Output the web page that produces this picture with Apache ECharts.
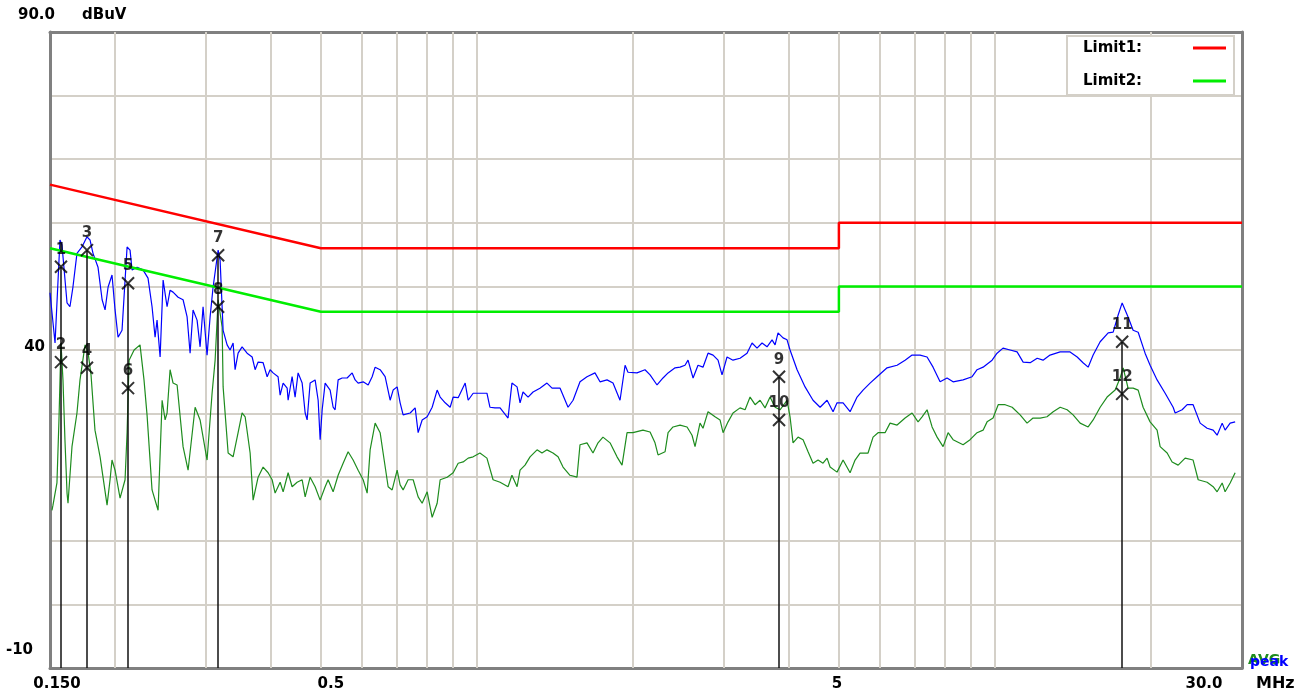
<!DOCTYPE html>
<html><head><meta charset="utf-8">
<script src="https://cdn.jsdelivr.net/npm/echarts@6/dist/echarts.min.js"></script>
<style>html,body{margin:0;padding:0;background:#fff}#c{width:1306px;height:697px}</style>
</head><body><div id="c"></div>
<script>
// ---- data (frequency in MHz, level in dBuV) ----
const peakFreq = [0.150,0.1534,0.1568,0.1582,0.1618,0.1639,0.1661,0.1691,0.1729,0.1768,0.1792,0.1816,0.1857,0.1891,0.1916,0.1942,0.1976,0.2003,0.2030,0.2066,0.2113,0.2141,0.2160,0.2209,0.2268,0.2319,0.2361,0.2393,0.2414,0.2447,0.2480,0.2524,0.2558,0.2592,0.2651,0.2710,0.2759,0.2796,0.2833,0.2884,0.2923,0.2962,0.3015,0.3056,0.3097,0.3167,0.3195,0.3238,0.3296,0.3340,0.3385,0.3415,0.3461,0.3523,0.3602,0.3684,0.3733,0.3783,0.3868,0.3938,0.3990,0.4043,0.4134,0.4172,0.4228,0.4304,0.4323,0.4400,0.4459,0.4519,0.4601,0.4663,0.4704,0.4767,0.4874,0.4940,0.4984,0.5029,0.5096,0.5210,0.5280,0.5327,0.5399,0.5496,0.5619,0.5746,0.5823,0.5901,0.6034,0.6170,0.6280,0.6364,0.6507,0.6653,0.6803,0.6894,0.7018,0.7112,0.7207,0.7436,0.7603,0.7705,0.7843,0.8020,0.8200,0.8384,0.8497,0.8688,0.8883,0.9002,0.9205,0.9496,0.9623,0.9839,1.005,1.046,1.060,1.084,1.109,1.149,1.169,1.196,1.212,1.228,1.256,1.284,1.324,1.366,1.397,1.448,1.500,1.534,1.582,1.632,1.691,1.729,1.784,1.832,1.890,1.933,1.958,2.038,2.112,2.160,2.228,2.288,2.340,2.414,2.468,2.523,2.557,2.615,2.673,2.733,2.795,2.858,2.922,2.974,3.041,3.123,3.222,3.324,3.399,3.475,3.553,3.633,3.715,3.765,3.815,3.901,3.971,4.024,4.152,4.302,4.457,4.599,4.744,4.872,4.959,5.094,5.255,5.421,5.567,5.743,5.925,6.194,6.476,6.710,6.922,7.173,7.399,7.599,7.840,8.087,8.306,8.684,9.038,9.241,9.491,9.879,10.10,10.37,10.70,11.04,11.34,11.70,12.07,12.39,12.78,13.37,13.97,14.42,14.80,15.14,15.48,15.97,16.55,16.92,17.30,17.61,18.08,18.49,18.91,19.50,19.94,20.57,21.32,22.09,22.29,22.99,23.51,24.14,24.91,25.69,26.39,26.86,27.47,27.83,28.46,29.10];
const peakLevel = [49.0,41.1,57.3,56.5,47.4,46.8,49.9,55.2,56.2,57.8,57.3,55.2,53.0,47.9,46.3,49.9,51.8,46.3,42.0,43.1,56.2,55.7,52.6,53.0,52.6,51.3,46.8,42.0,44.7,38.9,51.0,46.8,49.4,49.1,48.3,47.9,45.2,39.5,46.3,44.7,40.5,46.8,39.2,45.2,49.9,55.7,54.1,43.1,40.8,40.0,41.1,36.9,39.5,40.5,39.5,38.9,36.9,38.1,38.0,35.8,36.9,36.4,35.8,32.9,34.8,34.0,32.1,35.8,32.6,36.4,34.8,30.1,29.0,34.8,35.3,32.1,25.9,30.6,34.8,33.7,31.0,30.6,35.3,35.6,35.6,36.4,35.3,34.8,35.0,34.5,35.8,37.3,36.9,35.8,32.1,33.7,34.2,31.7,29.8,30.1,30.9,27.0,29.0,29.5,31.0,33.7,32.6,31.7,31.0,32.6,32.5,34.8,32.1,33.2,33.2,33.2,31.0,30.9,30.9,29.3,34.8,34.2,31.7,33.4,32.6,33.4,34.0,34.8,34.0,34.0,31.0,32.1,35.0,35.8,36.4,35.0,35.3,34.8,32.1,37.6,36.5,36.4,36.9,36.1,34.5,35.6,36.4,37.2,37.3,37.6,38.4,35.6,37.6,37.3,39.5,39.2,38.4,36.1,38.9,38.4,38.7,39.5,41.1,40.3,41.1,40.5,41.6,40.8,42.7,41.9,41.6,40.0,36.9,34.2,32.1,31.0,32.1,30.3,31.7,31.7,30.3,32.6,33.7,34.8,35.8,37.2,37.6,38.4,39.2,39.2,38.9,37.3,35.0,35.6,35.0,35.3,35.8,36.9,37.3,38.4,39.5,40.3,40.0,39.7,38.1,38.0,38.7,38.4,39.2,39.7,39.7,38.9,38.0,37.3,39.2,41.3,42.7,42.8,45.5,47.4,45.2,43.1,42.8,39.5,37.6,35.3,33.2,31.0,30.1,30.6,31.4,31.4,28.5,27.7,27.4,26.6,28.5,27.4,28.5,28.7];
const avgFreq = [0.1513,0.1520,0.1547,0.1561,0.1575,0.1589,0.1603,0.1618,0.1625,0.1654,0.1691,0.1714,0.1753,0.1776,0.1800,0.1832,0.1874,0.1933,0.1959,0.1976,0.2003,0.2048,0.2094,0.2113,0.2132,0.2180,0.2238,0.2278,0.2309,0.2361,0.2425,0.2469,0.2502,0.2524,0.2558,0.2592,0.2639,0.2710,0.2771,0.2859,0.2923,0.3015,0.3083,0.3125,0.3167,0.3224,0.3238,0.3311,0.3385,0.3461,0.3523,0.3571,0.3651,0.3700,0.3783,0.3868,0.3955,0.4026,0.4080,0.4172,0.4228,0.4323,0.4400,0.4499,0.4601,0.4663,0.4767,0.4874,0.4984,0.5096,0.5164,0.5280,0.5399,0.5520,0.5644,0.5771,0.5901,0.6034,0.6142,0.6224,0.6364,0.6507,0.6594,0.6743,0.6864,0.7018,0.7112,0.7207,0.7369,0.7536,0.7705,0.7843,0.8020,0.8200,0.8384,0.8497,0.8766,0.9002,0.9205,0.9411,0.9623,0.9839,1.014,1.046,1.075,1.109,1.149,1.169,1.196,1.212,1.239,1.267,1.307,1.336,1.366,1.403,1.435,1.467,1.513,1.561,1.582,1.632,1.676,1.714,1.752,1.808,1.865,1.907,1.950,2.002,2.093,2.160,2.208,2.238,2.309,2.340,2.392,2.468,2.546,2.603,2.638,2.697,2.733,2.795,2.883,2.948,2.988,3.055,3.123,3.222,3.295,3.369,3.445,3.522,3.601,3.682,3.765,3.849,3.971,4.024,4.078,4.170,4.264,4.360,4.457,4.558,4.660,4.744,4.808,4.959,5.094,5.255,5.373,5.493,5.692,5.820,5.951,6.139,6.277,6.476,6.710,6.922,7.109,7.237,7.399,7.566,7.736,7.945,8.124,8.306,8.684,8.958,9.241,9.491,9.661,9.922,10.15,10.47,10.80,11.19,11.54,11.85,12.23,12.61,12.96,13.37,13.79,14.16,14.61,15.14,15.48,15.97,16.47,17.07,17.45,17.69,18.08,18.49,18.91,19.33,19.94,20.57,20.85,21.51,21.99,22.59,23.30,24.14,24.69,25.69,26.39,26.86,27.47,27.83,28.46,29.10];
const avgLevel = [14.8,15.6,19.1,29.0,41.1,35.3,25.9,17.5,15.9,24.8,30.1,35.3,40.8,39.7,36.1,27.4,23.2,15.6,19.6,22.7,21.1,16.7,19.6,27.0,38.4,40.0,40.8,35.3,29.8,18.0,14.8,32.1,29.0,30.1,36.9,34.8,34.5,24.8,21.1,31.0,29.0,22.7,33.2,38.4,47.9,43.6,34.2,23.8,23.2,27.0,30.1,29.5,23.8,16.4,20.0,21.6,20.7,19.6,17.5,19.2,17.7,20.7,18.5,19.2,19.6,16.9,20.0,18.5,16.4,18.5,19.6,17.7,20.3,22.2,24.0,22.7,21.1,19.6,17.5,24.3,28.5,27.0,23.8,18.5,18.0,21.1,18.8,18.0,19.6,19.6,16.9,15.9,17.7,13.7,15.9,19.6,20.0,20.7,22.2,22.4,23.0,23.2,23.8,23.0,19.6,19.2,18.5,20.3,18.5,21.1,21.9,23.2,24.3,23.8,24.3,23.8,23.2,21.6,20.3,20.0,25.1,25.4,23.8,25.4,26.3,25.4,23.2,21.9,27.0,27.0,27.4,27.1,25.4,23.5,24.0,27.0,27.9,28.2,27.9,26.6,24.8,28.5,27.7,30.3,29.5,29.0,27.0,28.7,30.1,30.9,30.6,32.6,31.4,32.1,30.9,32.6,31.0,30.6,32.1,29.5,25.4,26.3,25.9,24.0,22.2,22.7,22.2,23.0,21.6,20.8,22.7,20.7,22.7,23.8,23.8,26.3,27.0,27.0,28.5,28.2,29.3,30.1,28.7,29.5,30.6,27.9,26.3,24.8,27.0,25.9,25.1,25.9,27.0,27.4,28.7,29.3,31.4,31.4,31.0,29.8,28.5,29.3,29.3,29.5,30.3,31.0,30.6,29.8,28.5,27.9,29.0,31.0,32.6,33.7,35.6,37.2,34.0,34.0,33.7,31.0,28.7,27.4,24.8,23.8,22.4,21.9,23.0,22.7,19.6,19.2,18.5,17.7,19.1,17.7,19.1,20.7];
const limit1Freq = [0.15, 0.5, 5, 5, 30];
const limit1Level = [66, 56, 56, 60, 60];
const limit2Freq = [0.15, 0.5, 5, 5, 30];
const limit2Level = [56, 46, 46, 50, 50];
const markerNames = ['1','2','3','4','5','6','7','8','9','10','11','12'];
const markerFreq = [0.1575,0.1575,0.1768,0.1768,0.2122,0.2122,0.3167,0.3167,3.832,3.832,17.61,17.61];
const markerLevel = [53.1,38.1,55.7,37.2,50.5,34.0,54.9,46.8,35.8,29.0,41.3,33.1];
const gridFreqs = [0.2,0.3,0.4,0.5,0.6,0.7,0.8,0.9,1,2,3,4,5,6,7,8,9,10,20];
const xTickValues = [0.15, 0.5, 5, 30];
const xTickLabels = ['0.150', '0.5', '5', '30.0'];
const yTickValues = [-10, 40, 90];
const yTickLabels = ['-10', '40', '90.0'];

// ---- chart ----
const zip = (a, b) => a.map((v, i) => [v, b[i]]);
const FONT = '"DejaVu Sans", "Liberation Sans", sans-serif';
const chart = echarts.init(document.getElementById('c'), null, {renderer: 'canvas'});

// marker stems: from the bottom of the scale up to the higher marker at each frequency
const stemTop = {};
markerFreq.forEach((f, i) => { stemTop[f] = Math.max(stemTop[f] ?? -Infinity, markerLevel[i]); });
const stems = Object.keys(stemTop).map(k => [{coord: [Number(k), -10]}, {coord: [Number(k), stemTop[k]]}]);

const frame = {show: true, onZero: false, lineStyle: {color: '#808080', width: 3}};

const option = {
  animation: false,
  backgroundColor: '#ffffff',
  grid: {left: 50, right: 64, top: 32, bottom: 29, containLabel: false},
  legend: {
    data: [{name: 'Limit1', icon: 'rect'}, {name: 'Limit2', icon: 'rect'}],
    orient: 'vertical', align: 'right', right: 72, top: 36,
    padding: [4, 8, 6, 16], itemGap: 17, itemWidth: 33, itemHeight: 3,
    borderColor: '#d4d0c8', borderWidth: 2, backgroundColor: '#ffffff',
    selectedMode: false,
    formatter: n => '{t|' + n + ':}',
    textStyle: {fontFamily: FONT, fontWeight: 'bold', fontSize: 15, color: '#000', lineHeight: 16,
      rich: {t: {fontFamily: FONT, fontWeight: 'bold', fontSize: 15, color: '#000', width: 105, align: 'left'}}}
  },
  xAxis: [{
    type: 'log', logBase: 10, min: 0.15, max: 30, gridIndex: 0,
    axisLine: frame,
    axisTick: {show: false}, axisLabel: {show: false}, splitLine: {show: false}, minorTick: {show: false}
  }, {
    type: 'log', logBase: 10, min: 0.15, max: 30, gridIndex: 0, position: 'top',
    axisLine: frame,
    axisTick: {show: false}, axisLabel: {show: false}, splitLine: {show: false}
  }],
  yAxis: [{
    type: 'value', min: -10, max: 90, interval: 10, gridIndex: 0,
    name: 'dBuV', nameLocation: 'end', nameGap: 17,
    nameTextStyle: {fontFamily: FONT, fontWeight: 'bold', fontSize: 15, color: '#000', align: 'left', verticalAlign: 'middle', padding: [0, 0, 0, 32]},
    axisLine: frame,
    axisTick: {show: false},
    splitLine: {show: true, lineStyle: {color: '#d4d0c8', width: 2}},
    axisLabel: {
      margin: -6, fontFamily: FONT, fontWeight: 'bold', fontSize: 15, color: '#000',
      formatter: v => { const i = yTickValues.indexOf(v); return i < 0 ? '' : '{y' + i + '|' + yTickLabels[i] + '}'; },
      rich: {
        y0: {fontFamily: FONT, fontWeight: 'bold', fontSize: 15, color: '#000', padding: [0, 23, 36, 0]},
        y1: {fontFamily: FONT, fontWeight: 'bold', fontSize: 15, color: '#000', padding: [0, 11, 6, 0]},
        y2: {fontFamily: FONT, fontWeight: 'bold', fontSize: 15, color: '#000', padding: [0, 1, 34, 0]}
      }
    }
  }, {
    type: 'value', min: -10, max: 90, gridIndex: 0, position: 'right',
    axisLine: frame,
    axisTick: {show: false}, axisLabel: {show: false}, splitLine: {show: false}
  }],
  series: [
    {
      name: 'freqGrid', type: 'line', data: [[0.15, -10]], symbol: 'none', silent: true, z: 1,
      lineStyle: {width: 0},
      markLine: {
        silent: true, z: 1, symbol: ['none', 'none'], label: {show: false}, animation: false,
        lineStyle: {color: '#d4d0c8', width: 2, type: 'solid'},
        data: gridFreqs.map(f => ({xAxis: f}))
      }
    },
    {name: 'AVG', type: 'line', data: zip(avgFreq, avgLevel), symbol: 'none', showSymbol: false, z: 3,
      color: '#1e8c1e', lineStyle: {color: '#1e8c1e', width: 1.2}},
    {name: 'peak', type: 'line', data: zip(peakFreq, peakLevel), symbol: 'none', showSymbol: false, z: 3,
      color: '#0000ff', lineStyle: {color: '#0000ff', width: 1.2}},
    {name: 'Limit1', type: 'line', data: zip(limit1Freq, limit1Level), symbol: 'none', z: 4,
      color: '#ff0000', lineStyle: {color: '#ff0000', width: 2.5}},
    {name: 'Limit2', type: 'line', data: zip(limit2Freq, limit2Level), symbol: 'none', z: 4,
      color: '#00ee00', lineStyle: {color: '#00ee00', width: 2.5}},
    {
      name: 'markers', type: 'scatter', z: 6,
      data: markerNames.map((n, i) => ({name: n, value: [markerFreq[i], markerLevel[i]]})),
      symbol: 'path://M0,0L10,10M10,0L0,10', symbolSize: 12,
      itemStyle: {color: 'none', borderColor: '#000', borderWidth: 2},
      label: {show: true, position: 'top', distance: 1, formatter: p => p.name, color: '#000',
        fontSize: 15, fontWeight: 'bold', fontFamily: FONT},
      markLine: {
        silent: true, z: 5, symbol: ['none', 'none'], label: {show: false}, animation: false,
        lineStyle: {color: '#111', width: 1.5, type: 'solid'},
        data: stems
      }
    }
  ]
};
chart.setOption(option);

// x tick labels and unit placed through the axis scale
const xLabelShift = [7, 10, -2, -38];
const texts = xTickValues.map((v, i) => {
  const p = chart.convertToPixel({xAxisIndex: 0, yAxisIndex: 0}, [v, -10]);
  return {type: 'text', x: p[0] + xLabelShift[i], y: p[1] + 9, silent: true,
    style: {text: xTickLabels[i], font: 'bold 15px ' + FONT, fill: '#000', align: 'center', verticalAlign: 'top'}};
});
const corner = chart.convertToPixel({xAxisIndex: 0, yAxisIndex: 0}, [30, -10]);
texts.push({type: 'text', x: corner[0] + 14, y: corner[1] + 8, silent: true,
  style: {text: 'MHz', font: 'bold 16px ' + FONT, fill: '#000', align: 'left', verticalAlign: 'top'}});
texts.push({type: 'text', x: corner[0] + 6, y: corner[1] - 1, silent: true,
  style: {text: 'AVG', font: 'bold 14px ' + FONT, fill: '#1e8c1e', align: 'left', verticalAlign: 'bottom'}});
texts.push({type: 'text', x: corner[0] + 8, y: corner[1] + 1, silent: true,
  style: {text: 'peak', font: 'bold 14px ' + FONT, fill: '#0000ff', align: 'left', verticalAlign: 'bottom'}});
chart.setOption({graphic: texts});
</script>
</body></html>
